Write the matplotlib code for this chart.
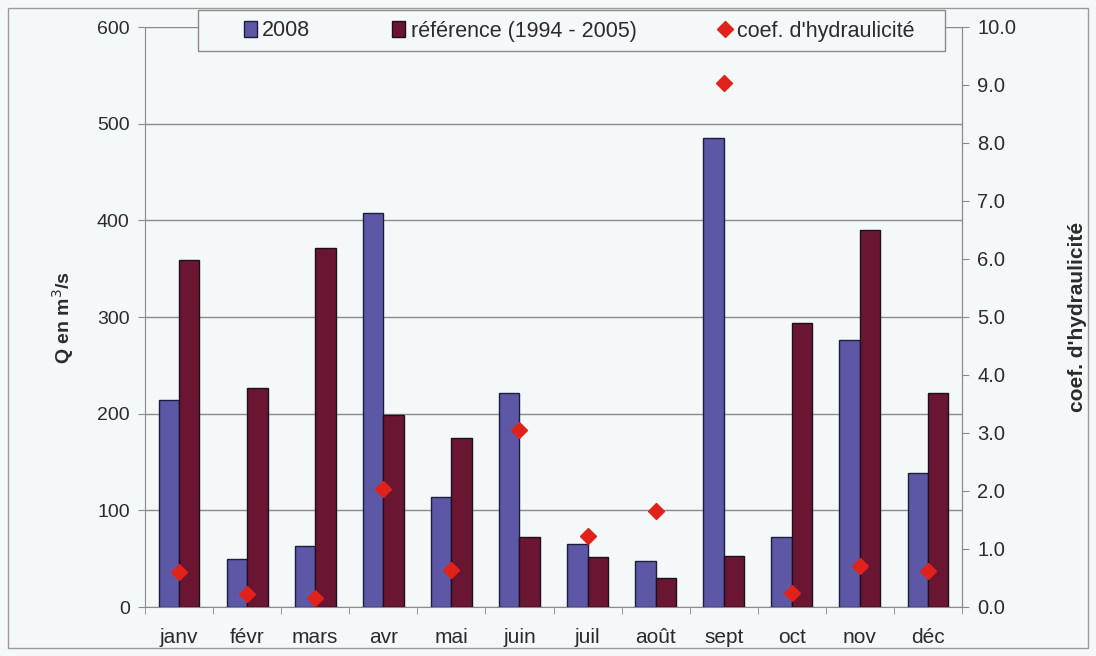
import numpy as np
import matplotlib
matplotlib.use('Agg')
import matplotlib.pyplot as plt
from matplotlib.patches import Rectangle

plt.rcParams['font.family'] = ['Liberation Sans', 'DejaVu Sans']

# monthly data
months = ['janv', 'févr', 'mars', 'avr', 'mai', 'juin',
          'juil', 'août', 'sept', 'oct', 'nov', 'déc']
q_2008 = [214, 50, 63, 408, 114, 221, 65, 48, 485, 72, 276, 139]
q_ref = [359, 227, 371, 199, 175, 72, 52, 30, 53, 294, 390, 221]
coef = [0.60, 0.22, 0.15, 2.03, 0.64, 3.06, 1.22, 1.66, 9.03, 0.25, 0.71, 0.62]

bg = '#f5f8f9'
c2008 = '#5c58a6'
cref = '#6a1632'
cdot = '#e0221b'
grey = '#8a8a8a'
txt = '#2b2b2b'

fig = plt.figure(figsize=(10.96, 6.56), dpi=100, facecolor=bg)
ax = fig.add_axes([145/1096, 1-607/656, (962-145)/1096, 580/656])
ax.set_facecolor(bg)

x = np.arange(len(months))
w = 0.3
b1 = ax.bar(x - w/2, q_2008, w, color=c2008, edgecolor='#1c1c3c', linewidth=1.0, label='2008', zorder=3)
b2 = ax.bar(x + w/2, q_ref, w, color=cref, edgecolor='#1c1020', linewidth=1.0,
            label='référence (1994 - 2005)', zorder=3)

ax.set_xlim(-0.5, 11.5)
ax.set_ylim(0, 600)
ax.set_yticks(range(0, 601, 100))
ax.yaxis.grid(True, color=grey, linewidth=1.0, zorder=0)
ax.set_xticks(x)
ax.set_xticklabels(months)
ax.set_xticks(np.arange(-0.5, 12, 1), minor=True)
ax.tick_params(axis='x', which='major', length=0, pad=15, labelsize=15, colors=txt)
ax.tick_params(axis='x', which='minor', length=5, color=grey)
ax.tick_params(axis='y', length=5, color=grey, labelsize=14, colors=txt, pad=6)
for s in ['left', 'bottom', 'right']:
    ax.spines[s].set_color(grey)
ax.spines['top'].set_visible(False)
ax.set_ylabel('Q en m$^3$/s', fontsize=14, fontweight='bold', color=txt, labelpad=15)

ax2 = ax.twinx()
ax2.set_ylim(0, 10)
ax2.set_yticks(np.arange(0, 10.1, 1))
ax2.set_yticklabels(['%.1f' % v for v in np.arange(0, 10.1, 1)])
ln = ax2.plot(x, coef, linestyle='none', marker='D', markersize=8, color=cdot,
              markeredgecolor=cdot, label="coef. d'hydraulicité", zorder=5)
ax2.tick_params(axis='y', length=5, color=grey, labelsize=14.5, colors=txt, pad=6)
for s in ['left', 'bottom', 'top']:
    ax2.spines[s].set_visible(False)
ax2.spines['right'].set_color(grey)
ax2.set_ylabel("coef. d'hydraulicité", fontsize=15, fontweight='bold', color=txt, labelpad=37)

# legend box drawn separately, entries centred inside it
fig.patches.append(Rectangle((198/1096, 1-51/656), (945-198)/1096, 41/656, transform=fig.transFigure,
                             facecolor=bg, edgecolor=grey, linewidth=1.0, zorder=10))
leg = fig.legend([b1, b2, ln[0]], ['2008', 'référence (1994 - 2005)', "coef. d'hydraulicité"],
                 loc='center', ncol=3, bbox_to_anchor=(579/1096, 1-31/656),
                 fontsize=15.5, frameon=False, handlelength=0.6, handletextpad=0.25,
                 columnspacing=3.8)
leg.set_zorder(11)
for t in leg.get_texts():
    t.set_color(txt)

# outer chart frame
fig.patches.append(Rectangle((8/1096, 8/656), 1080/1096, 640/656, transform=fig.transFigure,
                             fill=False, edgecolor='#9a9a9a', linewidth=1.0))

fig.savefig('out.png', dpi=100, facecolor=bg)
